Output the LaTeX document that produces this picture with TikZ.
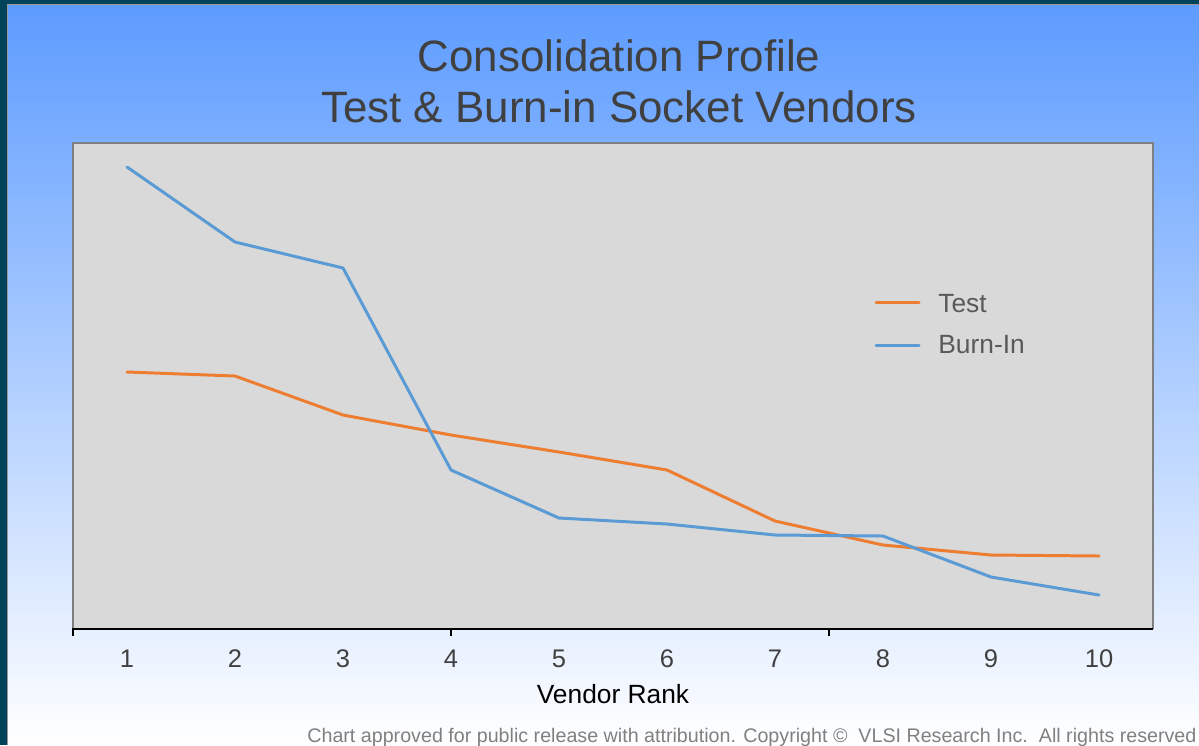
\documentclass[tikz,border=0pt]{standalone}
\usepackage{fontspec}
\setmainfont{Liberation Sans}
\definecolor{testorange}{RGB}{237,125,49}
\definecolor{burnblue}{RGB}{91,155,213}
\definecolor{plotgray}{RGB}{217,217,217}
\definecolor{frameteal}{RGB}{0,66,90}
\definecolor{skyblue}{RGB}{92,155,255}
\definecolor{titlegray}{RGB}{64,64,64}
\definecolor{legendgray}{RGB}{89,89,89}

\begin{document}
\begin{tikzpicture}[x=0.02cm,y=-0.02cm,
    series/.style={line width=1.7pt,line join=round,line cap=round},
    ticklabel/.style={font=\fontsize{14.5}{16}\selectfont,text=titlegray,inner sep=0pt,anchor=base},
    legendlabel/.style={font=\fontsize{15}{17}\selectfont,text=legendgray,inner sep=0pt,anchor=base west},
    titlelabel/.style={font=\fontsize{25}{29}\selectfont,text=titlegray,inner sep=0pt,anchor=base}]
  \useasboundingbox (0,0) rectangle (1199,745);

  % slide background
  \shade[top color=skyblue,middle color=skyblue!25!white,bottom color=white] (0,0) rectangle (1199,745);
  \fill[frameteal] (0,0) rectangle (7,745);
  \fill[frameteal] (0,0) rectangle (1199,4);
  \draw[gray!80,line width=0.6pt] (7.5,745) -- (7.5,4.5) -- (1199,4.5);

  % title
  \node[titlelabel] (title1) at (619,71) {Consolidation Profile};
  \node[titlelabel] (title2) at (619,122) {Test \& Burn-in Socket Vendors};

  % plot area
  \fill[plotgray] (73,143) rectangle (1153,629);
  \draw[gray,line width=1.3pt] (73,629) -- (73,143) -- (1153,143) -- (1153,629);
  \draw[black,line width=0.8pt] (72,629) -- (1153,629);
  \foreach \tx in {73,451,829}{
      \draw[black,line width=0.6pt] (\tx,629) -- (\tx,636);
  }

  % data points and rank labels
  \foreach \i/\t/\b in {1/372/167,2/376/242,3/415/268,4/435/470,5/452/518,
                        6/470/524,7/521/535,8/545/536,9/555/577,10/556/595}{
      \pgfmathsetmacro{\px}{127+108*(\i-1)}
      \coordinate (test\i) at (\px,\t);
      \coordinate (burn\i) at (\px,\b);
      \node[ticklabel] (rank\i) at (\px,667) {\i};
  }

  \draw[series,testorange] (test1) \foreach \i in {2,...,10}{ -- (test\i)};
  \draw[series,burnblue] (burn1) \foreach \i in {2,...,10}{ -- (burn\i)};

  % legend
  \coordinate (legtestA) at (876,302);
  \coordinate (legtestB) at (919,302);
  \coordinate (legburnA) at (876,345);
  \coordinate (legburnB) at (919,345);
  \draw[series,testorange] (legtestA) -- (legtestB);
  \draw[series,burnblue] (legburnA) -- (legburnB);
  \node[legendlabel] (legtest) at (938,312) {Test};
  \node[legendlabel] (legburn) at (938,353) {Burn-In};

  % axis title and footer
  \node[font=\fontsize{15}{17}\selectfont,inner sep=0pt,anchor=base] (axistitle) at (613,703) {Vendor Rank};
  \node[font=\fontsize{11.2}{13}\selectfont,text=gray,inner sep=0pt,anchor=base west] (footer) at (307,742)
      {Chart approved for public release with attribution. Copyright \textcopyright{}\ \ VLSI Research Inc.\ \ All rights reserved};
\end{tikzpicture}
\end{document}
